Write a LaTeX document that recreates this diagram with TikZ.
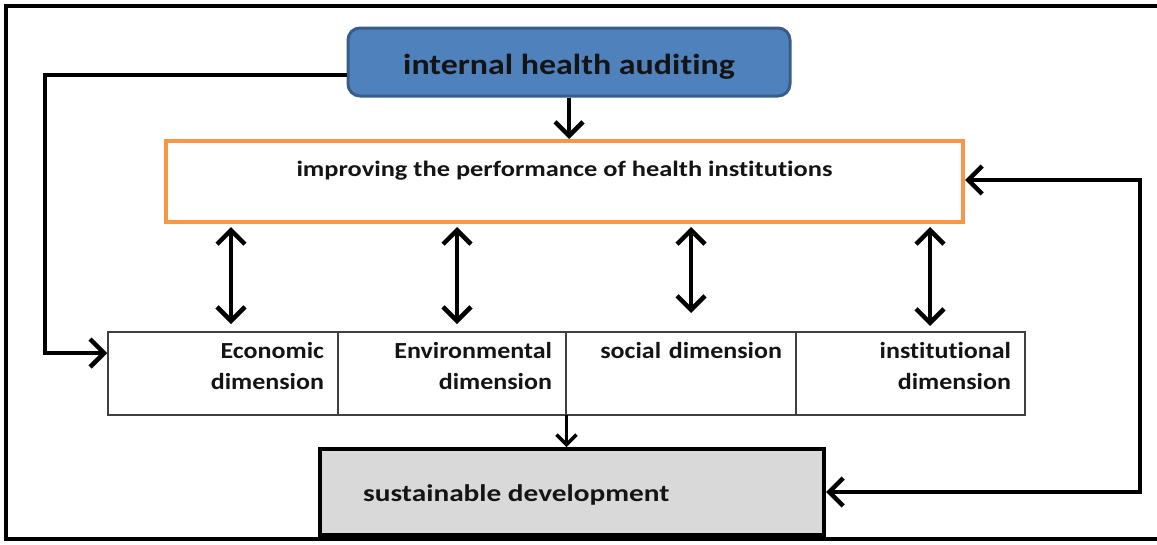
\documentclass[tikz,border=0pt]{standalone}
\usepackage{fontspec}
\setmainfont[Ligatures=NoCommon]{Carlito}
\newfontfamily\fAudit[FakeStretch=1.17,Ligatures=NoCommon]{Carlito}
\newfontfamily\fImprove[FakeStretch=1.2,Ligatures=NoCommon]{Carlito}
\newfontfamily\fDim[FakeStretch=1.13,Ligatures=NoCommon]{Carlito}
\newfontfamily\fSus[FakeStretch=1.22,Ligatures=NoCommon]{Carlito}
\usetikzlibrary{arrows.meta}
\definecolor{blueFill}{HTML}{4F81BD}
\definecolor{blueLine}{HTML}{385D8A}
\definecolor{orangeLine}{HTML}{F79646}
\definecolor{greyFill}{HTML}{D9D9D9}
\definecolor{txt}{HTML}{141414}
\tikzset{
  tip/.tip={Straight Barb[length=14pt,width=28pt,line width=4.5pt]},
  bigarrow/.style={line width=4pt, -tip},
  dblarrow/.style={line width=4pt, tip-tip},
  cell/.style={draw=black!75, line width=1.5pt, minimum height=83pt, inner xsep=14pt, inner ysep=0pt,
    align=right, text height=26pt, text depth=57pt, font=\fDim\fontsize{23}{31}\selectfont\bfseries, text=txt},
}
\begin{document}
\begin{tikzpicture}[x=1pt,y=-1pt]
\useasboundingbox (0,0) rectangle (1157,544);
\fill[white] (0,0) rectangle (1157,544);
% outer frame
\draw[line width=4pt] (1160,5.5) -- (6,5.5) -- (6,539) -- (1160,539);

% blue box
\node[draw=blueLine, fill=blueFill, line width=3pt, rounded corners=12pt,
  minimum width=442pt, inner ysep=0pt, text height=46pt, text depth=22pt,
  font=\fAudit\fontsize{29}{32}\selectfont\bfseries, text=txt]
  (audit) at (569,62) {internal health auditing};

% orange box
\node[draw=orangeLine, line width=4pt, minimum width=797pt, inner ysep=0pt,
  text height=35pt, text depth=46pt, font=\fImprove\fontsize{22}{26}\selectfont\bfseries, text=txt]
  (improve) at (564.5,181.5) {improving the performance of health institutions};

% dimension cells
\node[cell, text width=202pt] (eco) at (223,373.5) {Economic\\dimension};
\node[cell, text width=200pt] (env) at (452,373.5) {Environmental\\dimension};
\node[cell, text width=202pt] (soc) at (681,373.5) {social dimension};
\node[cell, text width=201pt] (ins) at (910.5,373.5) {institutional\\dimension};

% sustainable development
\node[draw=black, fill=greyFill, line width=4pt, minimum width=504pt, minimum height=86pt] (sus) at (572,492) {};
\node[anchor=base west, font=\fSus\fontsize{24}{28}\selectfont\bfseries, text=txt, inner sep=0pt] (sustxt) at (363,501) {sustainable development};

% arrows
\draw[bigarrow] (audit.south -| 569,0) -- (improve.north -| 569,0);
\coordinate (d1a) at (231,227); \coordinate (d1b) at (231,324);
\coordinate (d2a) at (457,227); \coordinate (d2b) at (457,324);
\coordinate (d3a) at (691,227); \coordinate (d3b) at (691,313);
\coordinate (d4a) at (930,227); \coordinate (d4b) at (930,326);
\draw[dblarrow] (d1a) -- (d1b);
\draw[dblarrow] (d2a) -- (d2b);
\draw[dblarrow] (d3a) -- (d3b);
\draw[dblarrow] (d4a) -- (d4b);
\draw[line width=3pt, -{Straight Barb[length=10pt,width=20pt,line width=3.5pt]}] (566.5,415) -- (sus.north -| 566.5,0);

% left loop
\coordinate (lt) at (45,75);
\coordinate (lb) at (45,353);
\draw[bigarrow] (audit.west |- 0,75) -- (lt) -- (lb) -- (eco.west |- lb);

% right loop
\coordinate (rt) at (1140,180);
\coordinate (rb) at (1140,492);
\draw[dblarrow] (improve.east |- rt) -- (rt) -- (rb) -- (sus.east |- rb);
\end{tikzpicture}
\end{document}
